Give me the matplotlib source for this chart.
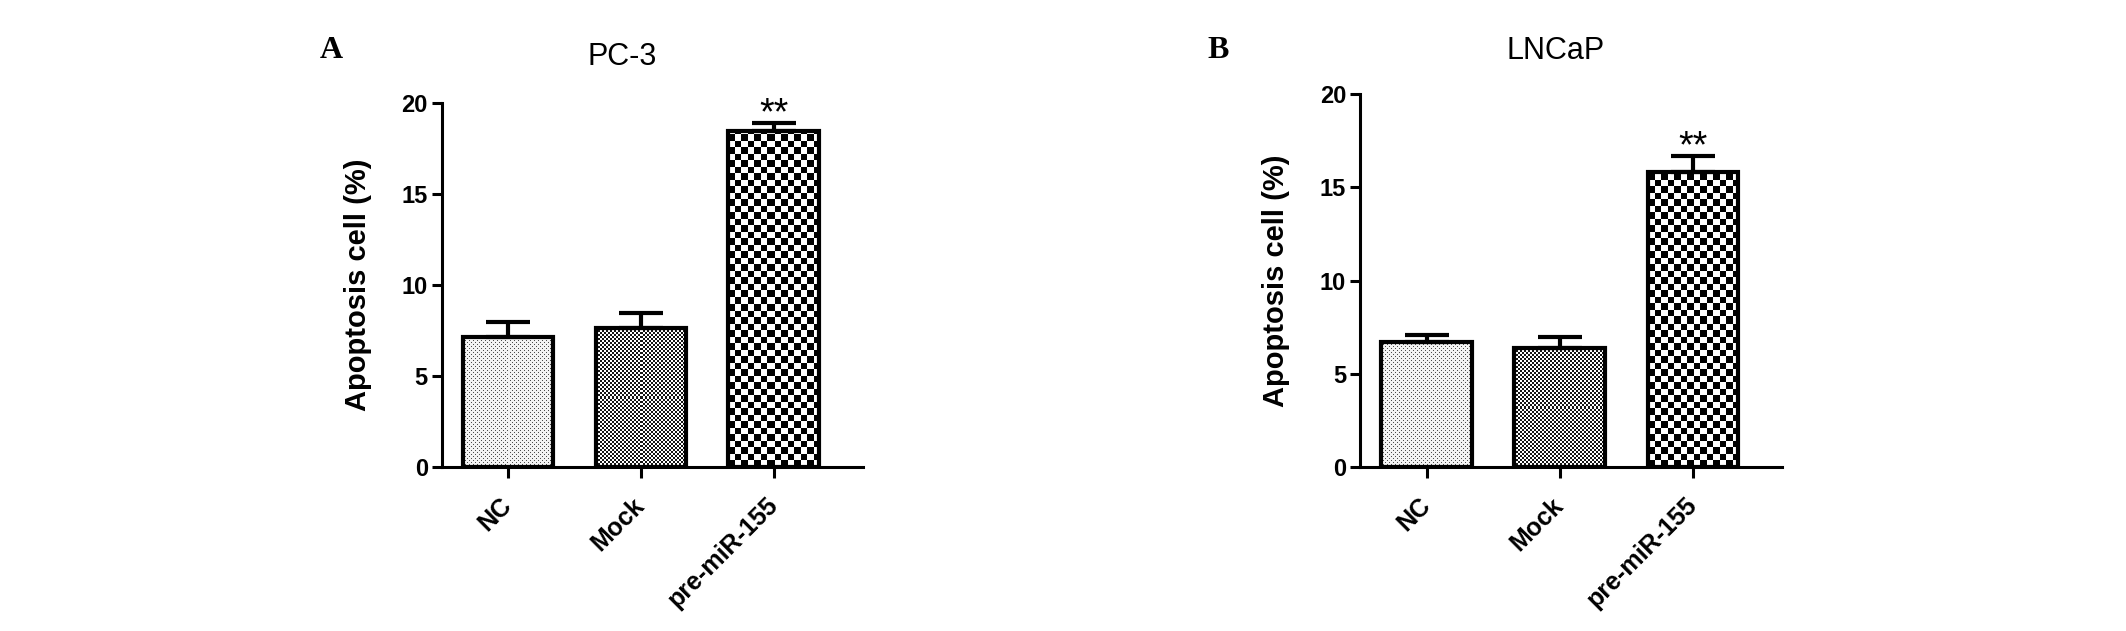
import numpy as np
import matplotlib
matplotlib.use('Agg')
import matplotlib.pyplot as plt

plt.rcParams['font.family'] = ['Liberation Sans', 'DejaVu Sans']

# data
groups = ['NC', 'Mock', 'pre-miR-155']
pc3_vals = [7.15, 7.65, 18.45]
pc3_err = [0.8, 0.8, 0.45]
lncap_vals = [6.7, 6.4, 15.85]
lncap_err = [0.35, 0.55, 0.85]
fills = ['light', 'dark', 'check']
yticks = [0, 5, 10, 15, 20]

W, H = 2126, 631
fig = plt.figure(figsize=(W / 100, H / 100), dpi=100)


def texture(kind, w, h):
    jj, ii = np.meshgrid(np.arange(w), np.arange(h))
    if kind == 'light':
        dots = ((ii % 4 == 0) & (jj % 4 == 0)) | ((ii % 4 == 2) & (jj % 4 == 2))
        return np.where(dots, 0.3, 0.95)
    if kind == 'dark':
        return np.where(((ii // 2) + (jj // 2)) % 2 == 0, 0.08, 1.0)
    return np.where((np.floor(ii / 6.5) + np.floor(jj / 6.5)) % 2 == 0, 0.0, 1.0)


def panel(rect, vals, errs, title, title_xy, letter, letter_xy):
    ax = fig.add_axes(rect)
    x = np.arange(len(vals))
    ax.set_xlim(-0.5, 2.67)
    ax.set_ylim(0, 20)
    bars = ax.bar(x, vals, width=0.68, facecolor='none', edgecolor='black',
                  linewidth=3, zorder=3)
    # pattern fills, clipped to each bar
    for b, kind in zip(bars, fills):
        x0, y0 = b.get_x(), b.get_y()
        x1, y1 = x0 + b.get_width(), y0 + b.get_height()
        p0 = ax.transData.transform((x0, y0))
        p1 = ax.transData.transform((x1, y1))
        w = int(round(p1[0] - p0[0]))
        h = int(round(p1[1] - p0[1]))
        im = ax.imshow(texture(kind, w, h), cmap='gray', vmin=0, vmax=1,
                       origin='lower', extent=(x0, x1, y0, y1),
                       interpolation='nearest', aspect='auto', zorder=2)
        im.set_clip_path(b)
    ax.set_xlim(-0.5, 2.67)
    ax.set_ylim(0, 20)
    ax.errorbar(x, vals, yerr=[np.zeros(len(vals)), errs], fmt='none',
                ecolor='black', elinewidth=3, capsize=16, capthick=3, zorder=4)
    # significance marker
    ax.annotate('**', (x[2], vals[2] + errs[2]), xytext=(0, -1),
                textcoords='offset points', ha='center', va='baseline',
                fontsize=27, clip_on=False)

    for s in ['top', 'right']:
        ax.spines[s].set_visible(False)
    for s in ['left', 'bottom']:
        ax.spines[s].set_linewidth(2.2)
    ax.set_yticks(yticks)
    ax.set_xticks(x)
    ax.tick_params(axis='y', length=7, width=2.2, pad=3, labelsize=17)
    ax.tick_params(axis='x', length=8, width=2.2, pad=17)
    ax.set_xticklabels(groups, rotation=45, ha='right', va='center',
                       rotation_mode='anchor', fontsize=18, fontweight='bold')
    for lab in ax.get_yticklabels():
        lab.set_fontweight('bold')
    ax.set_ylabel('Apoptosis cell (%)', fontsize=21, fontweight='bold')
    ax.yaxis.set_label_coords(-0.166, 0.5)

    fig.text(title_xy[0] / W, 1 - title_xy[1] / H, title, ha='center',
             va='center', fontsize=22)
    fig.text(letter_xy[0] / W, 1 - letter_xy[1] / H, letter, ha='center',
             va='center', fontsize=23, fontweight='bold',
             family='Liberation Serif')
    return ax


panel([441.7 / W, 164.3 / H, 420.9 / W, 363.4 / H], pc3_vals, pc3_err,
      'PC-3', (622, 57), 'A', (331, 51))
panel([1360 / W, 164.3 / H, 422 / W, 372.4 / H], lncap_vals, lncap_err,
      'LNCaP', (1556, 51), 'B', (1218, 51))

fig.savefig('out.png', dpi=100)
